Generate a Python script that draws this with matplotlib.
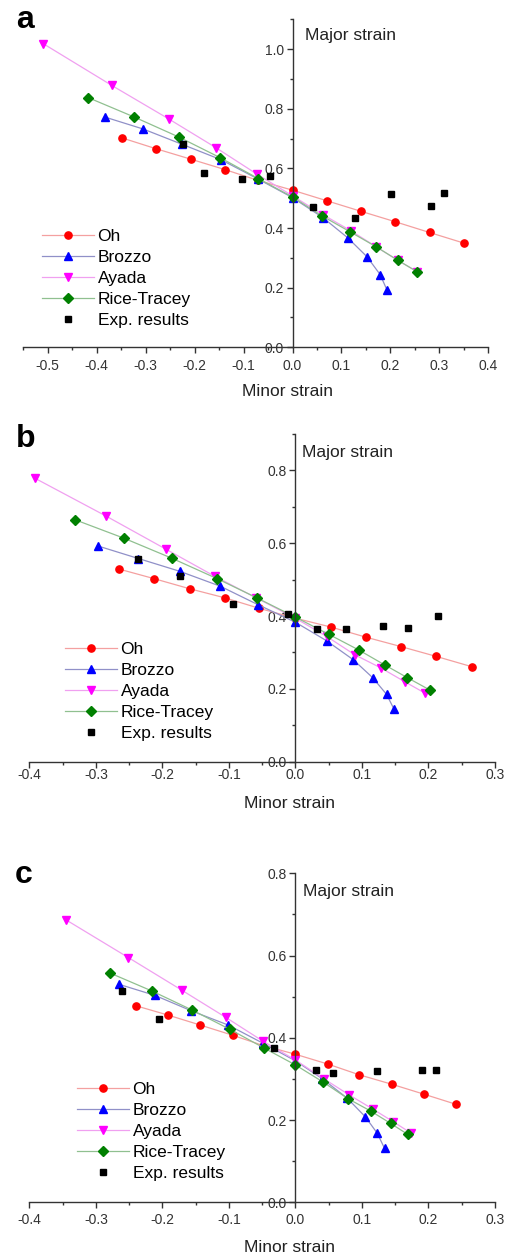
import matplotlib
matplotlib.use("Agg")
import matplotlib.pyplot as plt
from matplotlib.ticker import MultipleLocator, FormatStrFormatter

plt.rcParams['font.family'] = ['Liberation Sans', 'DejaVu Sans']
plt.rcParams['axes.unicode_minus'] = False

# ---- panel a ----
a_oh_x = [-0.348, -0.279, -0.208, -0.138, -0.071, 0.0, 0.071, 0.140, 0.210, 0.280, 0.351]
a_oh_y = [0.702, 0.666, 0.631, 0.596, 0.560, 0.527, 0.491, 0.456, 0.421, 0.385, 0.349]
a_br_x = [-0.383, -0.305, -0.226, -0.146, -0.070, 0.0, 0.062, 0.113, 0.152, 0.179, 0.193]
a_br_y = [0.772, 0.732, 0.681, 0.629, 0.564, 0.502, 0.435, 0.367, 0.304, 0.244, 0.192]
a_ay_x = [-0.509, -0.369, -0.253, -0.156, -0.073, 0.0, 0.062, 0.120, 0.171, 0.215, 0.255]
a_ay_y = [1.018, 0.878, 0.766, 0.669, 0.581, 0.508, 0.445, 0.390, 0.337, 0.292, 0.253]
a_rt_x = [-0.417, -0.323, -0.232, -0.148, -0.070, 0.0, 0.061, 0.118, 0.171, 0.215, 0.255]
a_rt_y = [0.837, 0.772, 0.705, 0.636, 0.566, 0.504, 0.440, 0.387, 0.337, 0.292, 0.253]
a_ex_x = [-0.224, -0.180, -0.103, -0.047, 0.042, 0.127, 0.202, 0.283, 0.310]
a_ex_y = [0.681, 0.586, 0.564, 0.574, 0.472, 0.434, 0.513, 0.474, 0.516]

# ---- panel b ----
b_oh_x = [-0.265, -0.213, -0.159, -0.106, -0.054, 0.0, 0.053, 0.106, 0.159, 0.212, 0.265]
b_oh_y = [0.529, 0.503, 0.475, 0.450, 0.421, 0.394, 0.370, 0.342, 0.316, 0.289, 0.261]
b_br_x = [-0.296, -0.236, -0.174, -0.113, -0.056, 0.0, 0.047, 0.087, 0.116, 0.137, 0.148]
b_br_y = [0.592, 0.558, 0.523, 0.482, 0.431, 0.383, 0.332, 0.280, 0.231, 0.185, 0.145]
b_ay_x = [-0.391, -0.284, -0.195, -0.121, -0.059, 0.0, 0.047, 0.089, 0.129, 0.164, 0.195]
b_ay_y = [0.778, 0.674, 0.584, 0.509, 0.450, 0.394, 0.344, 0.294, 0.257, 0.220, 0.188]
b_rt_x = [-0.332, -0.258, -0.186, -0.118, -0.058, 0.0, 0.050, 0.095, 0.135, 0.168, 0.202]
b_rt_y = [0.665, 0.614, 0.559, 0.503, 0.450, 0.397, 0.350, 0.307, 0.265, 0.231, 0.197]
b_ex_x = [-0.236, -0.174, -0.094, -0.011, 0.032, 0.076, 0.132, 0.169, 0.214]
b_ex_y = [0.558, 0.509, 0.434, 0.406, 0.364, 0.365, 0.372, 0.366, 0.399]

# ---- panel c ----
c_oh_x = [-0.240, -0.191, -0.143, -0.094, -0.048, 0.0, 0.049, 0.096, 0.145, 0.193, 0.242]
c_oh_y = [0.478, 0.455, 0.431, 0.406, 0.381, 0.360, 0.336, 0.310, 0.287, 0.263, 0.238]
c_br_x = [-0.265, -0.211, -0.157, -0.101, -0.049, 0.0, 0.040, 0.078, 0.105, 0.123, 0.134]
c_br_y = [0.530, 0.503, 0.466, 0.431, 0.387, 0.344, 0.301, 0.253, 0.208, 0.168, 0.131]
c_ay_x = [-0.345, -0.251, -0.171, -0.105, -0.049, 0.0, 0.043, 0.081, 0.116, 0.147, 0.174]
c_ay_y = [0.687, 0.595, 0.516, 0.450, 0.392, 0.346, 0.300, 0.261, 0.227, 0.196, 0.168]
c_rt_x = [-0.278, -0.216, -0.156, -0.099, -0.047, 0.0, 0.042, 0.079, 0.113, 0.143, 0.169]
c_rt_y = [0.557, 0.514, 0.468, 0.421, 0.375, 0.334, 0.292, 0.252, 0.222, 0.192, 0.165]
c_ex_x = [-0.260, -0.205, -0.032, 0.031, 0.056, 0.123, 0.190, 0.211]
c_ex_y = [0.514, 0.446, 0.374, 0.322, 0.314, 0.319, 0.322, 0.322]

labels = ["Oh", "Brozzo", "Ayada", "Rice-Tracey", "Exp. results"]

fig = plt.figure(figsize=(5.08, 12.56), dpi=100)

W, H = 508.0, 1256.0


def px_axes(x0, x1, y0, y1):
    # pixel box (left, right, bottom=y0 px from top, top=y1 px from top)
    return fig.add_axes([x0 / W, 1 - y0 / H, (x1 - x0) / W, (y0 - y1) / H])


def panel(ax, data, xlim, ylim, ytop, xpad, letter, letter_xy, major_xy, legend_xy, xlabel_xy):
    oh, br, ay, rt, ex = data
    ax.plot(*oh, color='#f4a0a0', lw=0.9, marker='o', ms=5.2, mfc='#ff0000', mec='#ff0000', label=labels[0])
    ax.plot(*br, color='#9090c8', lw=0.9, marker='^', ms=5.8, mfc='#0000ff', mec='#0000ff', label=labels[1])
    ax.plot(*ay, color='#f0a0f0', lw=0.9, marker='v', ms=5.8, mfc='#ff00ff', mec='#ff00ff', label=labels[2])
    ax.plot(*rt, color='#90c090', lw=0.9, marker='D', ms=4.6, mfc='#008000', mec='#008000', label=labels[3])
    ax.plot(*ex, ls='none', marker='s', ms=4.6, mfc='black', mec='black', label=labels[4])

    ax.set_xlim(*xlim)
    ax.set_ylim(0, ytop)
    for s in ['top', 'right']:
        ax.spines[s].set_visible(False)
    ax.spines['left'].set_position(('data', 0))
    for s in ['left', 'bottom']:
        ax.spines[s].set_linewidth(1.0)
        ax.spines[s].set_color('#333333')
    ax.xaxis.set_major_locator(MultipleLocator(0.1))
    ax.xaxis.set_minor_locator(MultipleLocator(0.05))
    ax.yaxis.set_major_locator(MultipleLocator(0.2))
    ax.yaxis.set_minor_locator(MultipleLocator(0.1))
    ax.xaxis.set_major_formatter(FormatStrFormatter('%.1f'))
    ax.yaxis.set_major_formatter(FormatStrFormatter('%.1f'))
    ax.set_yticks([v / 10 for v in range(0, int(round(ylim * 10)) + 1, 2)])
    ax.tick_params(which='major', direction='out', length=4, width=1.0, color='#333333',
                   labelsize=10, labelcolor='#333333')
    ax.tick_params(which='minor', direction='out', length=2.5, width=1.0, color='#333333')
    ax.tick_params(axis='x', which='major', pad=xpad)
    ax.tick_params(axis='y', which='major', pad=2)

    ax.text(major_xy[0], major_xy[1], "Major strain", fontsize=12.5, color='#222222',
            va='center', ha='left')
    fig.text(xlabel_xy[0] / W, 1 - xlabel_xy[1] / H, "Minor strain", fontsize=12.5,
             color='#222222', ha='center', va='center')
    fig.text(letter_xy[0] / W, 1 - letter_xy[1] / H, letter, fontsize=23, fontweight='bold',
             ha='center', va='center')

    ax.legend(loc='upper left', bbox_to_anchor=(legend_xy[0] / W, 1 - legend_xy[1] / H),
              bbox_transform=fig.transFigure, frameon=False, fontsize=12.5,
              handlelength=3.0, handletextpad=0.2, labelspacing=0.34,
              borderpad=0, borderaxespad=0)


ax_a = px_axes(23.3, 488.3, 347.3, 19.3)
panel(ax_a,
      [(a_oh_x, a_oh_y), (a_br_x, a_br_y), (a_ay_x, a_ay_y), (a_rt_x, a_rt_y), (a_ex_x, a_ex_y)],
      (-0.55, 0.4), 1.0, 1.1, 4.5, "a", (25, 20), (0.025, 1.046), (42, 229), (288, 391))

ax_b = px_axes(29.3, 495.0, 761.7, 434.0)
panel(ax_b,
      [(b_oh_x, b_oh_y), (b_br_x, b_br_y), (b_ay_x, b_ay_y), (b_rt_x, b_rt_y), (b_ex_x, b_ex_y)],
      (-0.4, 0.3), 0.8, 0.9, 0.5, "b", (26, 439), (0.0105, 0.850), (65, 642), (290, 803))

ax_c = px_axes(29.3, 495.0, 1202.3, 873.3)
panel(ax_c,
      [(c_oh_x, c_oh_y), (c_br_x, c_br_y), (c_ay_x, c_ay_y), (c_rt_x, c_rt_y), (c_ex_x, c_ex_y)],
      (-0.4, 0.3), 0.8, 0.8, 4.0, "c", (24, 875), (0.0116, 0.755), (77, 1082), (290, 1247))

fig.savefig("out.png", dpi=100)
